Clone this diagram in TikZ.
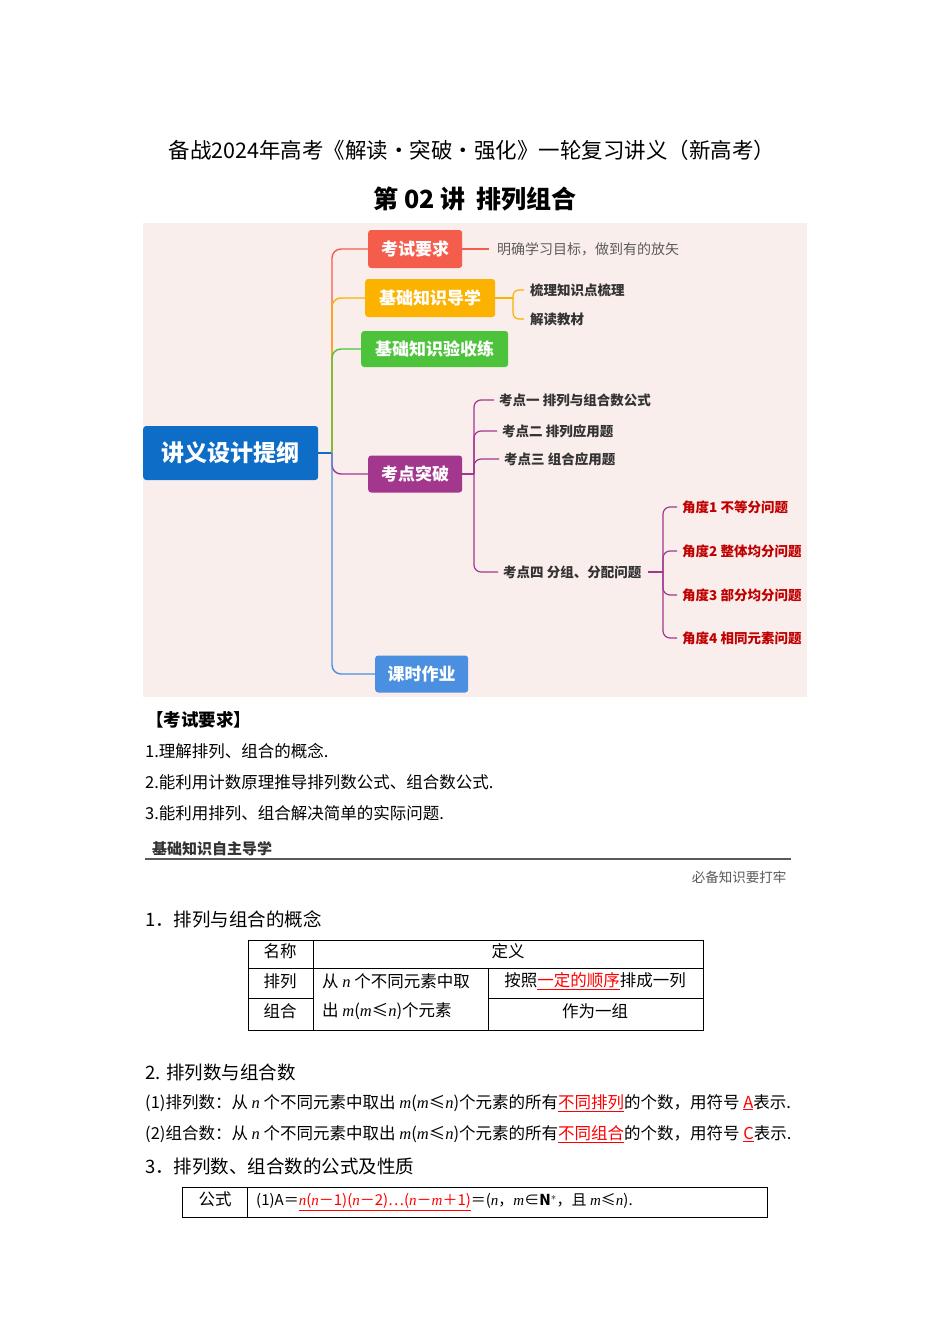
\documentclass[tikz,border=0pt]{standalone}
\usepackage{fontspec}
\setmainfont{Noto Sans CJK SC}
\newfontfamily\latf{Liberation Serif}
\newcommand{\vi}[1]{{\latf\itshape #1}}
\begin{document}
\begin{tikzpicture}[x=1pt,y=-1pt]
\definecolor{bgm}{HTML}{F9EEEC}
\definecolor{cRed}{HTML}{F45D4C}
\definecolor{cOr}{HTML}{FBB200}
\definecolor{cGr}{HTML}{4CC33A}
\definecolor{cPu}{HTML}{A3378E}
\definecolor{cBl}{HTML}{4A8FE0}
\definecolor{cRoot}{HTML}{0E6EC7}
\definecolor{dred}{HTML}{C00000}
\definecolor{txt}{HTML}{333333}
\tikzset{
 mbox/.style={rounded corners=3pt,text=white,font=\fontsize{17}{17}\selectfont\bfseries,inner sep=0pt,anchor=west},
 leaf/.style={anchor=west,font=\fontsize{13.5}{14}\selectfont\bfseries,text=txt,inner sep=1pt},
 rleaf/.style={leaf,text=dred},
 conn/.style={line width=1.4pt,rounded corners=9pt},
 body/.style={anchor=west,font=\fontsize{16.5}{17}\selectfont,inner sep=0pt},
 head/.style={anchor=west,font=\fontsize{18.5}{19}\selectfont,inner sep=0pt},
}
\useasboundingbox (0,0) rectangle (950,1344);
\fill[white] (0,0) rectangle (950,1344);
% titles
\node[font=\fontsize{21.5}{22}\selectfont] (t1) at (472,150) {备战2024年高考《解读•突破•强化》一轮复习讲义（新高考）};
\node[font=\fontsize{25}{25}\selectfont\bfseries] (t2) at (475,199) {第 02 讲\ \ 排列组合};
% mind map
\fill[bgm] (143,223) rectangle (807,697);
\node[fill=cRoot,rounded corners=3pt,minimum width=175pt,minimum height=54pt,text=white,font=\fontsize{23}{23}\selectfont\bfseries,anchor=west] (root) at (143,453) {讲义设计提纲};
\node[mbox,fill=cRed,minimum width=94pt,minimum height=38pt] (n1) at (368,249) {考试要求};
\node[mbox,fill=cOr,minimum width=130pt,minimum height=38pt] (n2) at (365,298) {基础知识导学};
\node[mbox,fill=cGr,minimum width=147pt,minimum height=36pt] (n3) at (361,349) {基础知识验收练};
\node[mbox,fill=cPu,minimum width=94pt,minimum height=37pt] (n4) at (368,474) {考点突破};
\node[mbox,fill=cBl,minimum width=93pt,minimum height=37pt] (n5) at (375,674) {课时作业};
\coordinate (trunk) at (332,453);
\draw[cRoot,line width=1.6pt] (root.east) -- (trunk);
\draw[conn,cRed] (trunk) |- (n1.west);
\draw[conn,cOr] (trunk) |- (n2.west);
\draw[conn,cGr] (trunk) |- (n3.west);
\draw[conn,cPu] (trunk) |- (n4.west);
\draw[conn,cBl] (trunk) |- (n5.west);
% leaves
\node[leaf,font=\fontsize{14}{14}\selectfont,text=txt!80,inner sep=0pt] (a1) at (497,249) {明确学习目标，做到有的放矢};
\coordinate (ae) at (489,249);
\draw[cRed,line width=1.2pt] (n1.east) -- (ae);
\node[leaf] (b1) at (529,290) {梳理知识点梳理};
\node[leaf] (b2) at (529,319) {解读教材};
\coordinate (bo) at (513,298);
\draw[cOr,line width=1.2pt] (n2.east) -- (bo);
\draw[cOr,line width=1.2pt,rounded corners=6pt] (bo) |- ([xshift=-5pt]b1.west);
\draw[cOr,line width=1.2pt,rounded corners=6pt] (bo) |- ([xshift=-5pt]b2.west);
\node[leaf] (c1) at (498,400) {考点一 排列与组合数公式};
\node[leaf] (c2) at (501,431) {考点二 排列应用题};
\node[leaf] (c3) at (503,459) {考点三 组合应用题};
\node[leaf] (c4) at (502,572) {考点四 分组、分配问题};
\coordinate (co) at (474,474);
\draw[cPu,line width=1.2pt] (n4.east) -- (co);
\foreach \c in {c1,c2,c3,c4}{\draw[cPu,line width=1.2pt,rounded corners=7pt] (co) |- ([xshift=-4pt]\c.west);}
\node[rleaf] (d1) at (681,507) {角度1 不等分问题};
\node[rleaf] (d2) at (681,551) {角度2 整体均分问题};
\node[rleaf] (d3) at (681,595) {角度3 部分均分问题};
\node[rleaf] (d4) at (681,638) {角度4 相同元素问题};
\coordinate (dout) at (663,572);
\draw[cPu,line width=1.6pt] ([xshift=6pt]c4.east) -- (dout);
\foreach \d in {d1,d2,d3,d4}{\draw[cPu,line width=1.2pt,rounded corners=7pt] (dout) |- ([xshift=-4pt]\d.west);}
% body text
\node[body,font=\fontsize{17.5}{18}\selectfont\bfseries] (r0) at (146,720) {【考试要求】};
\node[body] (r1) at (145,751) {1.理解排列、组合的概念.};
\node[body] (r2) at (145,782) {2.能利用计数原理推导排列数公式、组合数公式.};
\node[body] (r3) at (145,813) {3.能利用排列、组合解决简单的实际问题.};
\node[body,font=\fontsize{15}{15}\selectfont\bfseries,text=txt] (h1) at (152,849) {基础知识自主导学};
\draw[gray!70!black,line width=2pt] (145,859) -- (791,859);
\node[anchor=east,font=\fontsize{13.5}{14}\selectfont,text=gray!70!black] (h2) at (790,877) {必备知识要打牢};
\node[head] (s1) at (145,919) {1．排列与组合的概念};
% table 1
\draw[line width=0.9pt] (248,940) rectangle (703,1030);
\draw[line width=0.9pt] (248,968) -- (703,968);
\draw[line width=0.9pt] (248,998) -- (313,998) (488,998) -- (703,998);
\draw[line width=0.9pt] (313,940) -- (313,1030) (488,968) -- (488,1030);
\node[body,anchor=center] (tA) at (280,951) {名称};
\node[body,anchor=center] (tB) at (508,951) {定义};
\node[body,anchor=center] (tC) at (280,981) {排列};
\node[body,anchor=center] (tD) at (280,1011) {组合};
\node[body] (tE) at (322,981) {从 \vi{n} 个不同元素中取};
\node[body] (tF) at (322,1011) {出 \vi{m}({\vi m}≤\vi{n})个元素};
\node[body,anchor=center] (tG) at (595,981) {按照\textcolor{red}{\underline{一定的顺序}}排成一列};
\node[body,anchor=center] (tH) at (595,1011) {作为一组};
\node[head] (s2) at (145,1072) {2. 排列数与组合数};
\node[body] (p1) at (145,1103) {(1)排列数：从 \vi{n} 个不同元素中取出 \vi{m}(\vi{m}≤\vi{n})个元素的所有\textcolor{red}{\underline{不同排列}}的个数，用符号 \textcolor{red}{\underline{A}}表示.};
\node[body] (p2) at (145,1134) {(2)组合数：从 \vi{n} 个不同元素中取出 \vi{m}(\vi{m}≤\vi{n})个元素的所有\textcolor{red}{\underline{不同组合}}的个数，用符号 \textcolor{red}{\underline{C}}表示.};
\node[head] (s3) at (145,1166) {3．排列数、组合数的公式及性质};
% table 2
\draw[line width=0.9pt] (182,1187) rectangle (767,1217);
\draw[line width=0.9pt] (247,1187) -- (247,1217);
\node[body,anchor=center] (u1) at (215,1199) {公式};
\node[body,font=\fontsize{15}{15}\selectfont] (u2) at (256,1202) {(1)A＝\textcolor{red}{\underline{\vi{n}(\vi{n}－1)(\vi{n}－2)…(\vi{n}－\vi{m}＋1)}}＝(\vi{n}，\vi{m}∈\textbf{N}$^{*}$，且 \vi{m}≤\vi{n}).};
\end{tikzpicture}
\end{document}
